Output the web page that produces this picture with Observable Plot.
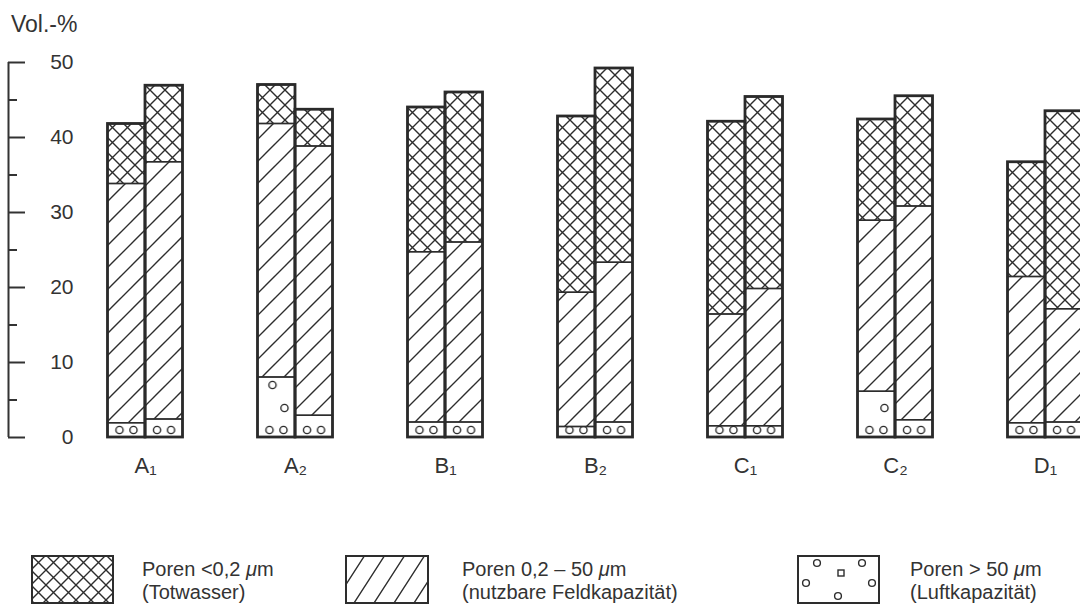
<!DOCTYPE html>
<html><head><meta charset="utf-8">
<script src="https://cdn.jsdelivr.net/npm/d3@7"></script>
<script src="https://cdn.jsdelivr.net/npm/@observablehq/plot@0.6"></script>
<style>
body{margin:0;background:#fff;overflow:hidden;font-family:"Liberation Sans",Arial,sans-serif;color:#333;}
#title{height:45px;box-sizing:border-box;padding:13px 0 0 11px;font-size:23px;line-height:23px;}
#legend{position:relative;height:52px;margin-top:60px;width:1080px;}
.lg-box{position:absolute;top:0;}
.lg-text{position:absolute;top:3px;font-size:20px;line-height:23px;white-space:nowrap;}
</style></head>
<body>
<svg width="0" height="0" style="position:absolute">
 <defs>
  <pattern id="pat-tot" patternUnits="userSpaceOnUse" width="15" height="15">
    <path d="M-2,-2 L17,17 M17,-2 L-2,17" stroke="#2d2d2d" stroke-width="1.4" fill="none"/>
  </pattern>
  <pattern id="pat-feld" patternUnits="userSpaceOnUse" width="22" height="22">
    <path d="M-2,24 L24,-2 M-13,13 L13,-13 M9,35 L35,9" stroke="#2d2d2d" stroke-width="1.4" fill="none"/>
  </pattern>
  <pattern id="pat-feld-lg" patternUnits="userSpaceOnUse" width="20" height="31">
    <path d="M0,31 L20,0 M-10,15.5 L10,-15.5 M10,46.5 L30,15.5" stroke="#2d2d2d" stroke-width="1.4" fill="none"/>
  </pattern>
  <pattern id="pat-luft" patternUnits="userSpaceOnUse" width="37.5" height="60">
    <rect width="37.5" height="60" fill="#fff"/>
    <circle cx="12" cy="53" r="3.6" fill="none" stroke="#2d2d2d" stroke-width="1.4"/>
    <circle cx="26" cy="53" r="3.6" fill="none" stroke="#2d2d2d" stroke-width="1.4"/>
    <circle cx="27" cy="31" r="3.6" fill="none" stroke="#2d2d2d" stroke-width="1.4"/>
    <circle cx="15" cy="8" r="3.6" fill="none" stroke="#2d2d2d" stroke-width="1.4"/>
  </pattern>
 </defs>
</svg>
<div id="title">Vol.-%</div>
<div id="chart"></div>
<div id="legend">
  <svg class="lg-box" style="left:31px" width="83" height="49"><rect x="1" y="1" width="81" height="47" fill="url(#pat-tot)" stroke="#2d2d2d" stroke-width="2"/></svg>
  <div class="lg-text" style="left:142px">Poren &lt;0,2 <i>μ</i>m<br>(Totwasser)</div>
  <svg class="lg-box" style="left:345px" width="84" height="49"><rect x="1" y="1" width="82" height="47" fill="url(#pat-feld-lg)" stroke="#2d2d2d" stroke-width="2"/></svg>
  <div class="lg-text" style="left:462px">Poren 0,2 – 50 <i>μ</i>m<br>(nutzbare Feldkapazität)</div>
  <svg class="lg-box" style="left:797px" width="83" height="49">
    <rect x="1" y="1" width="81" height="47" fill="#fff" stroke="#2d2d2d" stroke-width="2"/>
    <g fill="none" stroke="#2d2d2d" stroke-width="1.4">
      <circle cx="20" cy="8" r="3.4"/><circle cx="65" cy="8" r="3.4"/>
      <rect x="41" y="15" width="6" height="6"/>
      <circle cx="9" cy="28" r="3.4"/><circle cx="75" cy="28" r="3.4"/>
      <circle cx="41" cy="41" r="3.4"/>
    </g>
  </svg>
  <div class="lg-text" style="left:910px">Poren &gt; 50 <i>μ</i>m<br>(Luftkapazität)</div>
</div>
<script>
// Categories (sites), two bars per site (left / right)
const groups = ["A₁","A₂","B₁","B₂","C₁","C₂","D₁"];
// Poren > 50 µm (Luftkapazität), Vol.-%
const luftL = [1.9, 8.0, 2.0, 1.4, 1.5, 6.1, 1.9];
const luftR = [2.4, 2.9, 2.0, 2.0, 1.5, 2.3, 2.0];
// Poren 0,2 – 50 µm (nutzbare Feldkapazität), Vol.-%
const feldL = [31.9, 33.8, 22.7, 17.9, 14.9, 22.8, 19.5];
const feldR = [34.3, 35.9, 24.0, 21.3, 18.3, 28.5, 15.1];
// Poren < 0,2 µm (Totwasser), Vol.-%
const totL = [8.0, 5.2, 19.3, 23.5, 25.7, 13.5, 15.3];
const totR = [10.2, 4.9, 20.0, 25.9, 25.6, 14.7, 26.4];
const yTicks = [0, 10, 20, 30, 40, 50];
const yMinor = [5, 15, 25, 35, 45];

const cats = ["luft", "feld", "tot"];
const series = [[luftL, feldL, totL], [luftR, feldR, totR]];
const bars = [];
groups.forEach((g, i) => {
  series.forEach((arrs, side) => {
    let base = 0;
    const segs = cats.map((c, k) => {
      const v = arrs[k][i];
      const s = {gi: i, side, cat: c, y1: base, y2: base + v};
      base += v;
      return s;
    });
    bars.push({gi: i, side, total: base, segs});
  });
});
const segments = bars.flatMap(b => b.segs);
const BW = 0.25; // bar width in group units
const barX1 = d => d.gi + (d.side === 0 ? -BW : 0);
const barX2 = d => d.gi + (d.side === 0 ? 0 : BW);
const xDomain = [-137 / 150, 935 / 150];

const plot = Plot.plot({
  width: 1080, height: 450,
  marginTop: 17, marginBottom: 58, marginLeft: 8, marginRight: 0,
  x: {type: "linear", domain: xDomain},
  y: {domain: [0, 50]},
  color: {type: "ordinal", domain: cats, range: ["url(#pat-luft)", "url(#pat-feld)", "url(#pat-tot)"]},
  style: {fontFamily: '"Liberation Sans", Arial, sans-serif', fontSize: "21px", color: "#333", background: "transparent"},
  marks: [
    Plot.rect(segments, {x1: barX1, x2: barX2, y1: "y1", y2: "y2", fill: "cat", stroke: "#2d2d2d", strokeWidth: 1.4}),
    Plot.rect(bars, {x1: barX1, x2: barX2, y1: 0, y2: "total", fill: "none", stroke: "#2a2a2a", strokeWidth: 2.8}),
    Plot.ruleX([xDomain[0]], {y1: 0, y2: 50, stroke: "#333", strokeWidth: 2}),
    Plot.axisY(yTicks, {anchor: "left", tickSize: -17, tickPadding: -48, strokeWidth: 2, label: null}),
    Plot.axisY(yMinor, {anchor: "left", tickSize: -9, tickFormat: () => "", strokeWidth: 2, label: null}),
    Plot.axisX(d3.range(groups.length), {tickSize: 0, tickPadding: 20, tickFormat: i => groups[i], fontSize: 22, label: null})
  ]
});
document.getElementById("chart").appendChild(plot);
// align the circle texture with bar edges and baseline
const pat = document.getElementById("pat-luft");
pat.setAttribute("x", plot.scale("x").apply(-BW));
pat.setAttribute("y", plot.scale("y").apply(0) - 60);
</script>
</body></html>
